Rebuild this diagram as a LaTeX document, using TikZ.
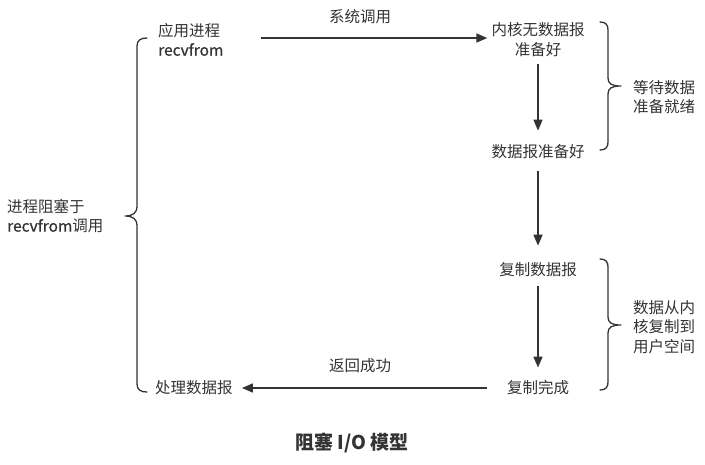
\documentclass[tikz,border=0pt]{standalone}
\usepackage{fontspec}
\setmainfont{Noto Sans CJK SC}
\newfontfamily\semib{Noto Sans CJK SC}[FakeBold=0.8]
\usetikzlibrary{arrows.meta}
\definecolor{ink}{HTML}{333333}
\tikzset{
  lbl/.style={inner sep=0pt, text=ink, font=\fontsize{15.5}{19.5}\selectfont, align=center},
  lbll/.style={lbl, align=left, anchor=west},
  arr/.style={draw=ink, line width=1.6pt, -{Triangle[length=11pt,width=9pt]}},
  brace/.style={draw=ink, line width=1.3pt, line cap=round, line join=round},
}
\begin{document}
\begin{tikzpicture}[x=1pt,y=-1pt]
\useasboundingbox (0,0) rectangle (705,464);
% nodes
\node[lbll] (app) at (158,39.5) {应用进程\\{\semib recvfrom}};
\node[lbl] (k1) at (538,39.5) {内核无数据报\\准备好};
\node[lbl] (k2) at (538,152) {数据报准备好};
\node[lbl] (k3) at (538,270) {复制数据报};
\node[lbl] (k4) at (538,388) {复制完成};
\node[lbll] (done) at (155,388) {处理数据报};
\node[lbll] (block) at (7,216) {进程阻塞于\\{\semib recvfrom}调用};
\node[lbll] (wait) at (633,97) {等待数据\\准备就绪};
\node[lbll] (copy) at (633,327) {数据从内\\核复制到\\用户空间};
\node[lbl] (call) at (360,17) {系统调用};
\node[lbl] (ret) at (360,366) {返回成功};
\node[inner sep=0pt, text=ink, font=\fontsize{19}{22}\selectfont\bfseries] (title) at (352,443) {阻塞 I/O 模型};
% arrows
\draw[arr, shorten <=37pt, shorten >=4pt] (app.east |- 0,38) -- (k1.west |- 0,38);
\draw[arr, shorten <=7pt, shorten >=14pt] (k1.south) -- (k2.north);
\draw[arr, shorten <=12pt, shorten >=17pt] (k2.south) -- (k3.north);
\draw[arr, shorten <=9pt, shorten >=13pt] (k3.south) -- (k4.north);
\draw[arr, shorten <=20pt, shorten >=9pt] (k4.west) -- (done.east);
% braces
\draw[brace] (147,38) .. controls (141,38) and (137,40) .. (137,46) -- (137,206)
  .. controls (137,213) and (133,216) .. (125,216)
  .. controls (133,216) and (137,219) .. (137,226) -- (137,384)
  .. controls (137,390) and (141,392) .. (147,392);
\draw[brace] (600,22) .. controls (606,22) and (608,25) .. (608,30) -- (608,78)
  .. controls (608,84) and (612,86) .. (621,86)
  .. controls (612,86) and (608,88) .. (608,94) -- (608,142)
  .. controls (608,147) and (606,150) .. (600,150);
\draw[brace] (600,259) .. controls (606,259) and (608,262) .. (608,267) -- (608,317)
  .. controls (608,323) and (612,325) .. (621,325)
  .. controls (612,325) and (608,327) .. (608,333) -- (608,382)
  .. controls (608,387) and (606,390) .. (600,390);
\end{tikzpicture}
\end{document}
